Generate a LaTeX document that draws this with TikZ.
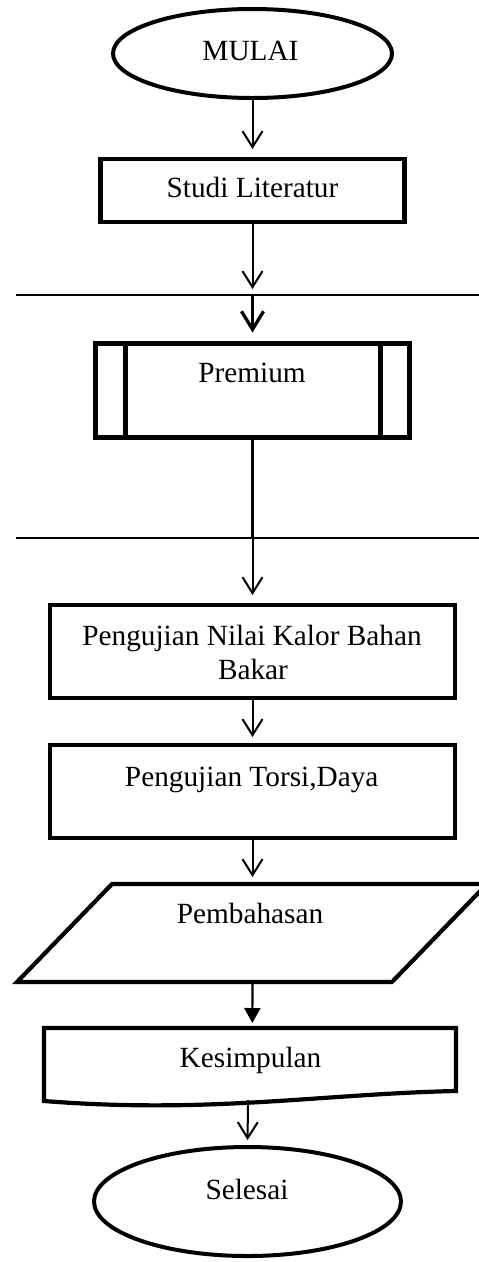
\documentclass[tikz,border=0pt]{standalone}
\usepackage{fontspec}
\setmainfont{Liberation Serif}
\usetikzlibrary{arrows.meta,shapes.geometric}
\tikzset{
  term/.style={ellipse, draw, line width=4pt, inner sep=0pt, outer sep=0pt},
  procbox/.style={rectangle, draw, line width=4.5pt, inner sep=0pt, outer sep=0pt},
  txt/.style={font=\fontsize{29.3}{34}\selectfont, anchor=base, inner sep=0pt, outer sep=0pt},
  flow/.style={line width=2pt, -{Straight Barb[length=16pt,width=20pt]}},
  thickflow/.style={line width=3.3pt, -{Straight Barb[length=18pt,width=22pt]}},
  solidflow/.style={line width=2.2pt, -{Triangle[length=15pt,width=16pt]}},
  sepline/.style={line width=1.3pt},
  shapeline/.style={line width=4.2pt, line join=miter}
}
\begin{document}
\begin{tikzpicture}[x=1pt,y=-1pt]
\useasboundingbox (0,0) rectangle (479,1262);

% MULAI
\node[term, minimum width=279pt, minimum height=89pt] (start) at (252.5,53.5) {};
\node[txt] (tstart) at (250.5,60) {MULAI};

% Studi Literatur
\node[procbox, minimum width=304pt, minimum height=63pt] (studi) at (252.5,190.5) {};
\node[txt] (tstudi) at (252.5,197) {Studi Literatur};

% first separator line
\coordinate (l1w) at (16,295);
\coordinate (l1e) at (479,295);
\coordinate (c1) at (252.5,295);
\draw[sepline] (l1w) -- (l1e);

% Premium (predefined process)
\node[procbox, minimum width=314pt, minimum height=94pt] (prem) at (252.5,390.5) {};
\draw[line width=4.5pt] ([xshift=30pt]prem.north west) -- ([xshift=30pt]prem.south west);
\draw[line width=4.5pt] ([xshift=-29pt]prem.north east) -- ([xshift=-29pt]prem.south east);
\node[txt] (tprem) at (252,382) {Premium};

% second separator line
\coordinate (l2w) at (16,538);
\coordinate (l2e) at (479,538);
\coordinate (c2) at (252.5,538);
\draw[sepline] (l2w) -- (l2e);

% Pengujian Nilai Kalor
\node[procbox, minimum width=405pt, minimum height=93pt] (nilai) at (252.5,651.5) {};
\node[txt] (tnilai1) at (252,645) {Pengujian Nilai Kalor Bahan};
\node[txt] (tnilai2) at (253,679) {Bakar};

% Pengujian Torsi, Daya
\node[procbox, minimum width=405pt, minimum height=93pt] (torsi) at (252.5,791.5) {};
\node[txt] (ttorsi) at (251.7,786) {Pengujian Torsi,Daya};

% Pembahasan (parallelogram)
\coordinate (pbsw) at (17,982);
\coordinate (pbnw) at (112,884);
\coordinate (pbne) at (487,884);
\coordinate (pbse) at (392,982);
\coordinate (pbn) at (252.5,884);
\coordinate (pbs) at (252.5,982);
\draw[shapeline] (pbsw) -- (pbnw) -- (pbne) -- (pbse) -- cycle;
\node[txt] (tpb) at (250,923) {Pembahasan};

% Kesimpulan (document)
\coordinate (kesnw) at (44,1028);
\coordinate (kesne) at (456,1028);
\coordinate (kesse) at (456,1091);
\coordinate (kessw) at (44,1101);
\coordinate (kesn) at (252.3,1028);
\coordinate (kess) at (248,1100);
\draw[shapeline] (kesnw) -- (kesne) -- (kesse)
  .. controls (320,1094) and (210,1114) .. (kessw) -- cycle;
\node[txt] (tkes) at (250.5,1067) {Kesimpulan};

% Selesai
\node[term, minimum width=307pt, minimum height=109pt] (end) at (247.5,1201.5) {};
\node[txt] (tend) at (247,1199) {Selesai};

% connectors
\draw[flow, shorten >=10pt] (start.south) -- (studi.north);
\draw[flow, shorten >=6pt] (studi.south) -- (c1);
\draw[thickflow, shorten >=11pt] (c1) -- (prem.north);
\draw[line width=3pt] (prem.south) -- (c2);
\draw[flow, shorten >=10pt] (c2) -- (nilai.north);
\draw[flow, shorten >=8pt] (nilai.south) -- (torsi.north);
\draw[flow, shorten >=7pt] (torsi.south) -- (pbn);
\draw[solidflow, shorten >=5pt] (pbs) -- (kesn);
\draw[flow, shorten >=7pt] (kess) -- (end.north);
\end{tikzpicture}
\end{document}
